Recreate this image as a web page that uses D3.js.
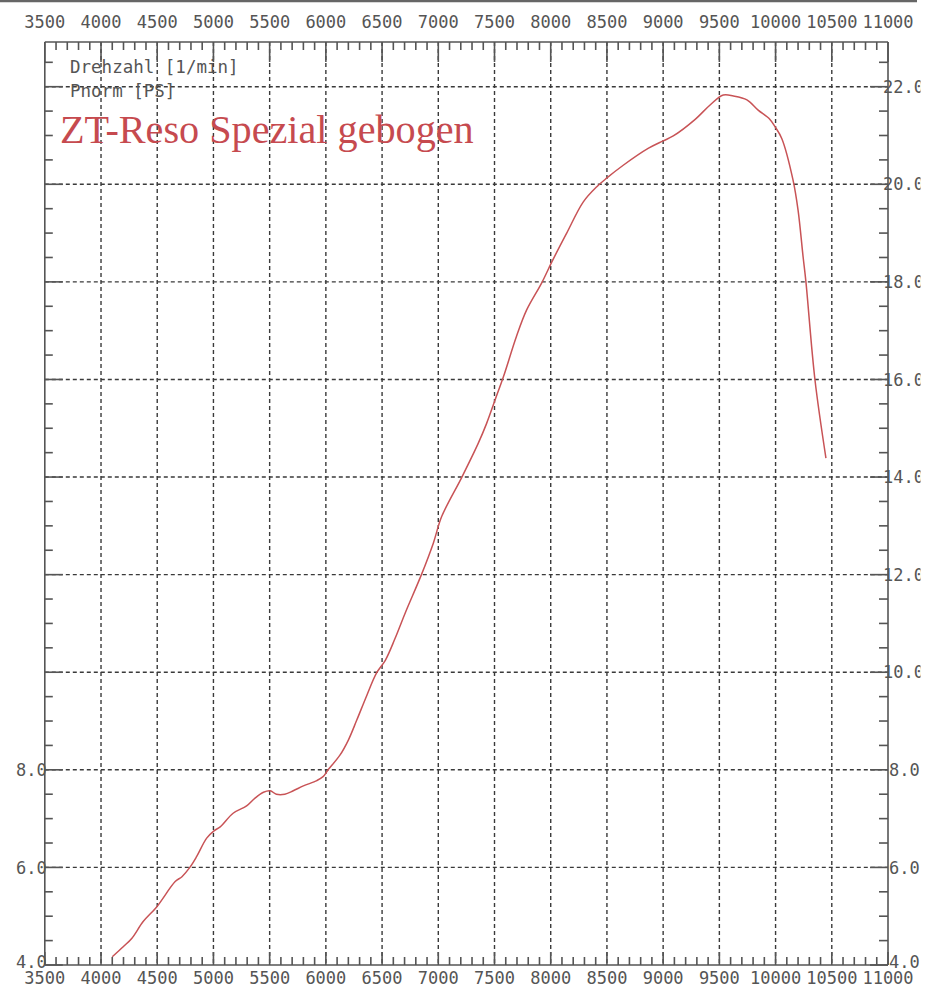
<!DOCTYPE html>
<html>
<head>
<meta charset="utf-8">
<script src="https://cdn.jsdelivr.net/npm/d3@7"></script>
<style>
  html, body { margin: 0; padding: 0; background: #fff; }
  svg { display: block; }
  .lbl { font-family: "DejaVu Sans Mono", monospace; font-size: 17px; fill: #555; }
</style>
</head>
<body>
<svg id="chart" width="942" height="1000"></svg>
<script>
// ---- data ----
const rpm = [4100, 4200, 4275, 4375, 4495, 4660, 4720, 4790, 4850, 4940, 5005, 5060, 5175, 5295, 5370, 5445, 5505, 5560, 5635, 5710, 5800, 5920, 5975, 6020, 6125, 6200, 6275, 6365, 6450, 6530, 6615, 6705, 6850, 6955, 7030, 7210, 7355, 7430, 7505, 7580, 7695, 7785, 7920, 8010, 8140, 8290, 8410, 8500, 8645, 8870, 9000, 9090, 9285, 9415, 9535, 9625, 9745, 9845, 9950, 9995, 10055, 10155, 10200, 10245, 10270, 10350, 10448];
const power = [4.17, 4.38, 4.55, 4.89, 5.19, 5.71, 5.81, 6.00, 6.22, 6.60, 6.75, 6.83, 7.11, 7.26, 7.42, 7.54, 7.57, 7.50, 7.50, 7.57, 7.67, 7.78, 7.86, 8.00, 8.30, 8.61, 9.02, 9.53, 9.98, 10.25, 10.69, 11.21, 12.00, 12.64, 13.19, 14.00, 14.69, 15.10, 15.58, 16.06, 16.88, 17.42, 17.98, 18.41, 18.99, 19.64, 19.95, 20.13, 20.39, 20.74, 20.89, 20.99, 21.33, 21.62, 21.83, 21.81, 21.73, 21.52, 21.33, 21.18, 20.94, 20.09, 19.47, 18.51, 18.00, 16.00, 14.39];
const xTickLabels = [3500, 4000, 4500, 5000, 5500, 6000, 6500, 7000, 7500, 8000, 8500, 9000, 9500, 10000, 10500, 11000];
const yTickLabels = [4, 6, 8, 10, 12, 14, 16, 18, 20, 22];
const leftTickLabels = [4, 6, 8];
const legendLines = ["Drehzahl [1/min]", "Pnorm [PS]"];
const title = "ZT-Reso Spezial gebogen";

// ---- layout ----
const L = 44.8, R = 888, B = 965, T = 42;
const svg = d3.select("#chart");
const x = d3.scaleLinear().domain([3500, 11000]).range([L, R]);
const y = d3.scaleLinear().domain([4, 22]).range([B, 86.7]);
const yTop = y.invert(T);

const minorX = d3.range(3500, 11001, 100);
const minorY = d3.range(4, yTop, 0.5);

svg.append("defs").append("clipPath").attr("id", "rclip")
  .append("rect").attr("x", 860).attr("y", 0).attr("width", 60.5).attr("height", 1000);

// scan edge line at top
svg.append("line").attr("x1", 0).attr("x2", 917).attr("y1", 1).attr("y2", 1)
  .attr("stroke", "#666").attr("stroke-width", 2.5);

// grid
const grid = svg.append("g").attr("stroke", "#3a3a3a").attr("stroke-width", 1.4)
  .attr("stroke-dasharray", "4,3");
grid.selectAll(".vg").data(xTickLabels.filter(v => v > 3500 && v < 11000)).join("line")
  .attr("x1", d => x(d)).attr("x2", d => x(d)).attr("y1", T).attr("y2", B);
grid.selectAll(".hg").data(yTickLabels.filter(v => v > 4)).join("line")
  .attr("x1", L).attr("x2", R).attr("y1", d => y(d)).attr("y2", d => y(d));

// frame
const ax = svg.append("g").attr("stroke", "#555").attr("stroke-width", 1.6).attr("fill", "none");
ax.append("line").attr("x1", L).attr("x2", R).attr("y1", T).attr("y2", T);
ax.append("line").attr("x1", L).attr("x2", R).attr("y1", B).attr("y2", B);
ax.append("line").attr("x1", L).attr("x2", L).attr("y1", T).attr("y2", B);
ax.append("line").attr("x1", R).attr("x2", R).attr("y1", T).attr("y2", B);

const isMajorX = v => v % 500 === 0;
const isMajorY = v => Math.abs(v % 2) < 1e-6;
// top ticks
ax.selectAll(".tt").data(minorX).join("line")
  .attr("x1", d => x(d)).attr("x2", d => x(d)).attr("y1", T).attr("y2", d => T + (isMajorX(d) ? 20 : 8));
// bottom ticks
ax.selectAll(".bt").data(minorX).join("line")
  .attr("x1", d => x(d)).attr("x2", d => x(d)).attr("y1", B).attr("y2", d => B - (isMajorX(d) ? 13 : 8));
// left ticks
ax.selectAll(".lt").data(minorY).join("line")
  .attr("y1", d => y(d)).attr("y2", d => y(d)).attr("x1", L).attr("x2", d => L + (isMajorY(d) ? 18 : 8));
// right ticks
ax.selectAll(".rt").data(minorY).join("line")
  .attr("y1", d => y(d)).attr("y2", d => y(d)).attr("x1", R).attr("x2", d => R - (isMajorY(d) ? 18 : 9));

// x labels
svg.selectAll(".xl-top").data(xTickLabels).join("text").attr("class", "lbl")
  .attr("x", d => x(d)).attr("y", 28).attr("text-anchor", "middle").text(d => d);
svg.selectAll(".xl-bot").data(xTickLabels).join("text").attr("class", "lbl")
  .attr("x", d => x(d)).attr("y", 984).attr("text-anchor", "middle").text(d => d);

// y labels
const fmt = d3.format(".1f");
svg.selectAll(".yl-left").data(leftTickLabels).join("text").attr("class", "lbl")
  .attr("x", L + 2).attr("y", d => y(d)).attr("dy", d => d === 4 ? "0.2em" : "0.36em")
  .attr("text-anchor", "end").text(d => fmt(d));
svg.append("g").attr("clip-path", "url(#rclip)")
  .selectAll(".yl-right").data(yTickLabels).join("text").attr("class", "lbl")
  .attr("x", d => fmt(d).length > 3 ? R - 5 : R + 1).attr("y", d => y(d))
  .attr("dy", d => d === 4 ? "0.2em" : "0.36em")
  .attr("text-anchor", "start").text(d => fmt(d));

// legend
svg.selectAll(".leg").data(legendLines).join("text").attr("class", "lbl")
  .style("font-size", "17.5px")
  .attr("x", 70).attr("y", (d, i) => 73 + i * 24).text(d => d);

// title
svg.append("text").attr("x", 60).attr("y", 143)
  .attr("font-family", "Liberation Serif, Times New Roman, serif").attr("font-size", 40.2)
  .attr("fill", "#c64a4f").text(title);

// curve
const pts = rpm.map((r, i) => [r, power[i]]);
svg.append("path").datum(pts)
  .attr("fill", "none").attr("stroke", "#c85356").attr("stroke-width", 1.5)
  .attr("d", d3.line().x(d => x(d[0])).y(d => y(d[1])).curve(d3.curveCatmullRom));
</script>
</body>
</html>
